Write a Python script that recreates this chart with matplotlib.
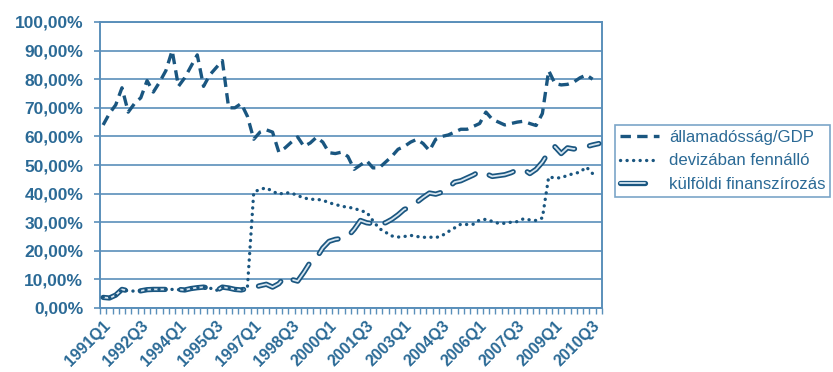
import numpy as np
import matplotlib
matplotlib.use("Agg")
import matplotlib.pyplot as plt
import matplotlib.patheffects as pe
from matplotlib.ticker import FuncFormatter, MultipleLocator

plt.rcParams["font.family"] = ["Liberation Sans", "DejaVu Sans"]
plt.rcParams["lines.scale_dashes"] = False

nan = np.nan

# negyedevek 1991Q1 .. 2010Q4
quarters = [f"{y}Q{q}" for y in range(1991, 2011) for q in range(1, 5)]

series_labels = ["államadósság/GDP", "devizában fennálló", "külföldi finanszírozás"]

# államadósság/GDP (%)
debt = [
    64, 68, 71, 77, 68.5, 71.5, 73.5, 79.5,
    75.5, 79, 83, 90, 77.5, 80.5, 84.5, 88.5,
    77.5, 81.5, 84, 86.5, 70, 70, 71.5, 67,
    59, 61.5, 62.3, 61.5, 54.5, 56, 58, 59.8,
    56.5, 57.7, 59.7, 58, 54.3, 54, 54.5, 53,
    48.5, 50, 51.5, 49, 49, 51, 53, 55.5,
    56.5, 58, 59, 57.5, 55, 59, 60, 60.5,
    61.5, 62.5, 62.5, 63.5, 64.5, 68.5, 66, 65,
    64, 64.5, 65, 65.3, 64.5, 63.8, 68, 83,
    78.5, 78, 78.2, 79, 80.5, 81.5, 80, nan,
]

# devizában fennálló (%)
fx_debt = [
    3.8, 3.6, 4.3, 6.4, 6, 5.9, 6.1, 6.4,
    6.5, 6.5, 6.5, 6.5, 6.4, 6.3, 6.8, 7.1,
    7.3, 7, 6.1, 7.2, 7, 6.6, 6.4, 7.5,
    40.5, 41.5, 42, 40.8, 39.8, 40.3, 40.2, 39.3,
    38.5, 38, 38, 37.7, 36.8, 36.2, 35.6, 35.2,
    34.9, 34, 33.5, 30.5, 27.8, 26.5, 25.2, 24.8,
    25, 25.4, 25, 24.7, 24.8, 24.6, 25.3, 26.7,
    28, 29.3, 29.2, 29.3, 30.8, 31, 30.3, 29.6,
    29.6, 30, 30.2, 31.2, 30.8, 30.6, 31.5, 45.8,
    45.5, 45.5, 46.4, 47, 47.5, 49.3, 47, nan,
]

# külföldi finanszírozás (%)
foreign = [
    3.7, 3.5, 4.5, 6.5, 6, 5.8, 6, 6.4,
    6.5, 6.5, 6.5, 6.5, 6.5, 6.3, 6.8, 7.1,
    7.3, 6.9, 6, 7.3, 7, 6.5, 6.3, 6.8,
    7.2, 7.8, 8.3, 7.3, 8.5, 11, 10, 9.4,
    12.5, 16, 17.5, 21, 23.3, 24, 24.3, 25,
    27.5, 30.6, 29.8, 29.5, 29.5, 29.8, 31, 32.6,
    34.5, 35.2, 37, 38.7, 40.2, 39.8, 40.5, 42,
    44, 44.5, 45.5, 46.5, 47.8, 47, 46, 46.3,
    46.6, 47.3, 48.3, 48.5, 47, 48.5, 51, 54.5,
    56.4, 54, 56, 55.6, 56, 56.4, 57, 57.5,
]

LINE = "#1a5680"
GRID = "#5a8fba"
TEXT = "#2b6a96"
YTICK_FS = 12.5
XTICK_FS = 11.5
LEG_FS = 12.1

fig = plt.figure(figsize=(8.33, 3.72), dpi=100)
ax = fig.add_axes([100 / 833, 1 - 308 / 372, 502 / 833, 286 / 372])

x = np.arange(len(quarters))

# külföldi finanszírozás: dupla vonal, hosszú szaggatás
ax.plot(x, foreign, color="#d6e5f0", lw=1.3, linestyle=(0, (18, 11)),
        solid_capstyle="round", dash_capstyle="round", zorder=3,
        path_effects=[pe.Stroke(linewidth=3.8, foreground=LINE), pe.Normal()],
        label=series_labels[2])
# devizában fennálló: pontozott
ax.plot(x, fx_debt, color=LINE, lw=2.4, linestyle=(0, (0.1, 4.6)),
        dash_capstyle="round", zorder=4, label=series_labels[1])
# államadósság: szaggatott
ax.plot(x, debt, color=LINE, lw=2.4, linestyle=(0, (7.5, 4.5)),
        dash_capstyle="butt", zorder=5, label=series_labels[0])

ax.set_xlim(-0.5, len(quarters) - 0.5)
ax.set_ylim(0, 100)

ax.yaxis.set_major_locator(MultipleLocator(10))
ax.yaxis.set_major_formatter(FuncFormatter(lambda v, p: f"{v:.2f}%".replace(".", ",")))
ax.grid(axis="y", color=GRID, lw=1.2, zorder=1)
ax.set_axisbelow(True)

ax.set_xticks(x[::6])
ax.set_xticklabels(quarters[::6], rotation=45, ha="right", rotation_mode="anchor")
ax.set_xticks(np.arange(-0.5, len(quarters), 1), minor=True)
ax.tick_params(axis="x", which="major", length=0, pad=7, labelsize=XTICK_FS, labelcolor=TEXT)
ax.tick_params(axis="x", which="minor", length=4, width=1.0, color=GRID, direction="out")
ax.tick_params(axis="y", length=4, width=1.2, color=GRID, pad=8, labelsize=YTICK_FS, labelcolor=TEXT)
for lab in ax.get_xticklabels() + ax.get_yticklabels():
    lab.set_fontweight("bold")

for s in ax.spines.values():
    s.set_color(GRID)
    s.set_linewidth(1.4)

handles, labels = ax.get_legend_handles_labels()
order = [2, 1, 0]
leg = fig.legend([handles[i] for i in order], [labels[i] for i in order],
                 loc="upper left", bbox_to_anchor=(615 / 833, 1 - 125 / 372),
                 fontsize=LEG_FS, labelcolor=TEXT, frameon=True, fancybox=False,
                 edgecolor=GRID, handlelength=2.3, handletextpad=0.6,
                 labelspacing=0.5, borderpad=0.3, borderaxespad=0)
leg.get_frame().set_linewidth(1.2)

fig.savefig("out.png", dpi=100)
